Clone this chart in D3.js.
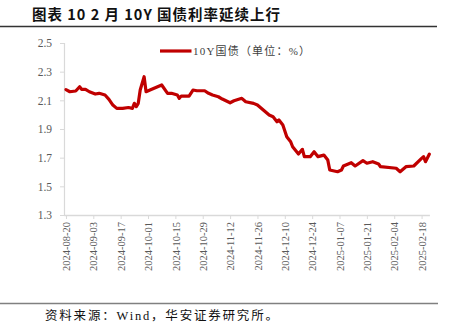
<!DOCTYPE html>
<html><head><meta charset="utf-8">
<script src="https://cdn.jsdelivr.net/npm/d3@7/dist/d3.min.js"></script>
<style>
html,body{margin:0;padding:0;background:#fff;}
svg{display:block;}
</style></head>
<body>
<svg id="c" width="449" height="334"></svg>
<script>
// ---- data ----
const dates = ["2024-08-20","2024-08-22","2024-08-25","2024-08-27","2024-08-28","2024-08-30","2024-09-01","2024-09-04","2024-09-06","2024-09-09","2024-09-11","2024-09-13","2024-09-15","2024-09-18","2024-09-21","2024-09-23","2024-09-24","2024-09-25","2024-09-26","2024-09-27","2024-09-29","2024-09-30","2024-10-02","2024-10-08","2024-10-11","2024-10-13","2024-10-16","2024-10-17","2024-10-18","2024-10-22","2024-10-24","2024-10-26","2024-10-30","2024-11-01","2024-11-03","2024-11-06","2024-11-08","2024-11-12","2024-11-14","2024-11-18","2024-11-20","2024-11-24","2024-11-26","2024-11-29","2024-12-02","2024-12-04","2024-12-06","2024-12-07","2024-12-09","2024-12-11","2024-12-13","2024-12-14","2024-12-17","2024-12-19","2024-12-20","2024-12-23","2024-12-25","2024-12-27","2024-12-30","2025-01-01","2025-01-02","2025-01-06","2025-01-08","2025-01-09","2025-01-13","2025-01-15","2025-01-19","2025-01-21","2025-01-24","2025-01-27","2025-01-28","2025-02-05","2025-02-07","2025-02-10","2025-02-14","2025-02-18","2025-02-19","2025-02-20","2025-02-22"];
const yields = [2.175,2.160,2.165,2.195,2.177,2.177,2.160,2.144,2.149,2.137,2.107,2.067,2.044,2.044,2.050,2.044,2.079,2.056,2.079,2.172,2.265,2.160,2.172,2.207,2.149,2.149,2.137,2.114,2.130,2.130,2.172,2.167,2.167,2.149,2.137,2.125,2.109,2.083,2.097,2.114,2.090,2.079,2.067,2.032,1.998,1.986,1.951,1.963,1.928,1.846,1.811,1.776,1.725,1.758,1.707,1.707,1.742,1.707,1.718,1.683,1.614,1.602,1.614,1.642,1.665,1.642,1.679,1.661,1.672,1.656,1.637,1.626,1.602,1.637,1.642,1.695,1.707,1.672,1.725];
const tickDates = ["2024-08-20","2024-09-03","2024-09-17","2024-10-01","2024-10-15","2024-10-29","2024-11-12","2024-11-26","2024-12-10","2024-12-24","2025-01-07","2025-01-21","2025-02-04","2025-02-18"];
const yTicks = [1.3,1.5,1.7,1.9,2.1,2.3,2.5];
const domainDates = ["2024-08-19","2025-02-22"];
const titleText = "图表 10 2 月 10Y 国债利率延续上行";
const legendText = "10Y国债（单位：%）";
const sourceText = "资料来源：Wind，华安证券研究所。";

// ---- drawing ----
const parse = d3.utcParse("%Y-%m-%d");
const svg = d3.select("#c");
const serif = "'Liberation Serif','Times New Roman','Noto Sans CJK SC',serif";
const cjk = "'Liberation Serif','Noto Sans CJK SC',sans-serif";

const x = d3.scaleUtc().domain(domainDates.map(parse)).range([64, 429.4]);
const y = d3.scaleLinear().domain([1.3, 2.5]).range([215, 43]);

// title
svg.append("text").attr("x", 32).attr("y", 19.5)
  .attr("font-family", "'Noto Sans CJK SC',sans-serif").attr("font-weight", "bold")
  .attr("font-size", 14.5).attr("fill", "#111")
  .attr("textLength", 248).attr("lengthAdjust", "spacing")
  .text(titleText);
svg.append("line").attr("x1", 0).attr("x2", 437).attr("y1", 26.5).attr("y2", 26.5)
  .attr("stroke", "#333").attr("stroke-width", 1.3);

// y axis
const ya = svg.append("g").attr("transform", "translate(64,0)")
  .call(d3.axisLeft(y).tickValues(yTicks).tickFormat(d3.format(".1f")).tickSize(4).tickPadding(8));
ya.select(".domain").attr("stroke", "#d9d9d9").attr("stroke-width", 1.2);
ya.selectAll(".tick line").attr("stroke", "#d9d9d9");
ya.selectAll(".tick text").attr("font-family", serif).attr("font-size", 11.5).attr("fill", "#595959");

// x axis
const xa = svg.append("g").attr("transform", "translate(0,215)")
  .call(d3.axisBottom(x).tickValues(tickDates.map(parse)).tickFormat(d3.utcFormat("%Y-%m-%d")).tickSize(4).tickSizeOuter(0));
xa.select(".domain").attr("stroke", "#d9d9d9").attr("stroke-width", 1.5);
xa.selectAll(".tick line").attr("stroke", "#d9d9d9");
xa.selectAll(".tick text")
  .attr("font-family", serif).attr("font-size", 10.5).attr("fill", "#595959")
  .attr("text-anchor", "end")
  .attr("transform", "rotate(-90)")
  .attr("x", -7).attr("y", 0).attr("dy", "0.35em");

// line
const data = dates.map((d, i) => ({date: parse(d), v: yields[i]}));
svg.append("path").datum(data)
  .attr("fill", "none").attr("stroke", "#C00000").attr("stroke-width", 3.2)
  .attr("stroke-linejoin", "round").attr("stroke-linecap", "round")
  .attr("d", d3.line().x(d => x(d.date)).y(d => y(d.v)));

// legend
svg.append("line").attr("x1", 160).attr("x2", 191.5).attr("y1", 51).attr("y2", 51)
  .attr("stroke", "#C00000").attr("stroke-width", 3.2);
svg.append("text").attr("x", 193).attr("y", 55)
  .attr("font-family", cjk).attr("font-size", 11).attr("fill", "#404040")
  .attr("textLength", 117).attr("lengthAdjust", "spacing")
  .text(legendText);

// source
svg.append("line").attr("x1", 0).attr("x2", 438).attr("y1", 303.5).attr("y2", 303.5)
  .attr("stroke", "#808080").attr("stroke-width", 1.3);
svg.append("text").attr("x", 45).attr("y", 320)
  .attr("font-family", cjk).attr("font-size", 12.5).attr("fill", "#111")
  .attr("textLength", 233).attr("lengthAdjust", "spacing")
  .text(sourceText);
</script>
</body></html>
